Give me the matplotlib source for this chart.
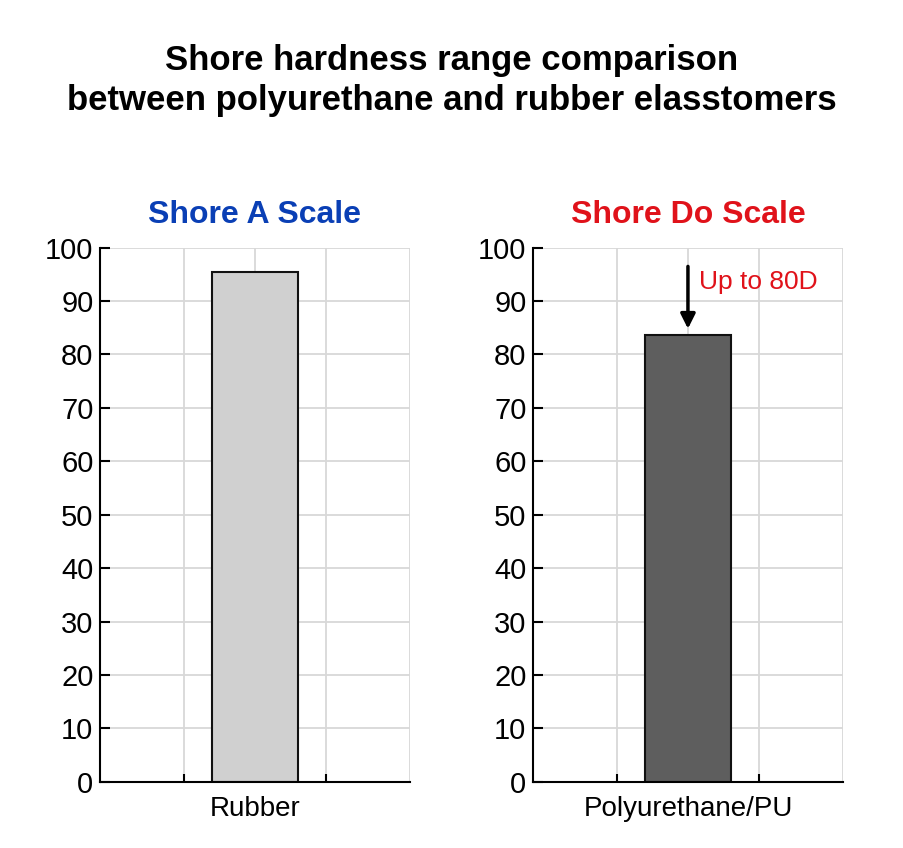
import matplotlib.pyplot as plt

plt.rcParams['font.family'] = ['Liberation Sans', 'DejaVu Sans']

categories = ["Rubber", "Polyurethane/PU"]
values = [95.5, 83.7]
panel_titles = ["Shore A Scale", "Shore Do Scale"]
title_colors = ["#0a3fb5", "#e0121a"]
bar_colors = ["#d0d0d0", "#5e5e5e"]
yticks = list(range(0, 101, 10))

fig = plt.figure(figsize=(9.04, 8.48), dpi=100)
fig.text(0.5, 0.905, "Shore hardness range comparison\nbetween polyurethane and rubber elasstomers",
         ha="center", va="center", fontsize=25, fontweight="bold", linespacing=1.3)

lefts = [0.111, 0.590]
for i in range(2):
    ax = fig.add_axes([lefts[i], 0.078, 0.342, 0.630])
    ax.set_xlim(0, 1)
    ax.set_ylim(0, 100)
    for y in yticks[1:]:
        ax.axhline(y, color="#d8d8d8", lw=1.3, zorder=0)
    for x in [0.27, 0.5, 0.73, 1.0]:
        ax.axvline(x, color="#d8d8d8", lw=1.3, zorder=0)
    ax.bar([0.5], [values[i]], width=0.28, color=bar_colors[i], edgecolor="#111111", lw=1.5, zorder=2)
    ax.spines[["top", "right"]].set_visible(False)
    ax.spines[["left", "bottom"]].set_linewidth(1.5)
    ax.set_yticks(yticks)
    ax.tick_params(axis="y", direction="in", length=7, width=1.5, labelsize=21, pad=5)
    ax.set_xticks([0.5])
    ax.set_xticklabels([categories[i]], fontsize=20)
    ax.tick_params(axis="x", length=0, pad=10)
    ax.set_xticks([0.27, 0.73], minor=True)
    ax.tick_params(axis="x", which="minor", direction="in", length=6, width=1.5)
    ax.set_title(panel_titles[i], color=title_colors[i], fontsize=23, fontweight="bold", pad=18)
    if i == 1:
        ax.annotate("", xy=(0.5, values[i] + 0.6), xytext=(0.5, 97),
                    arrowprops=dict(arrowstyle="-|>", color="black", lw=2.5, mutation_scale=22))
        ax.text(0.535, 93.5, "Up to 80D", color="#e0121a", fontsize=19, va="center")

fig.savefig("out.png", dpi=100, facecolor="white")
